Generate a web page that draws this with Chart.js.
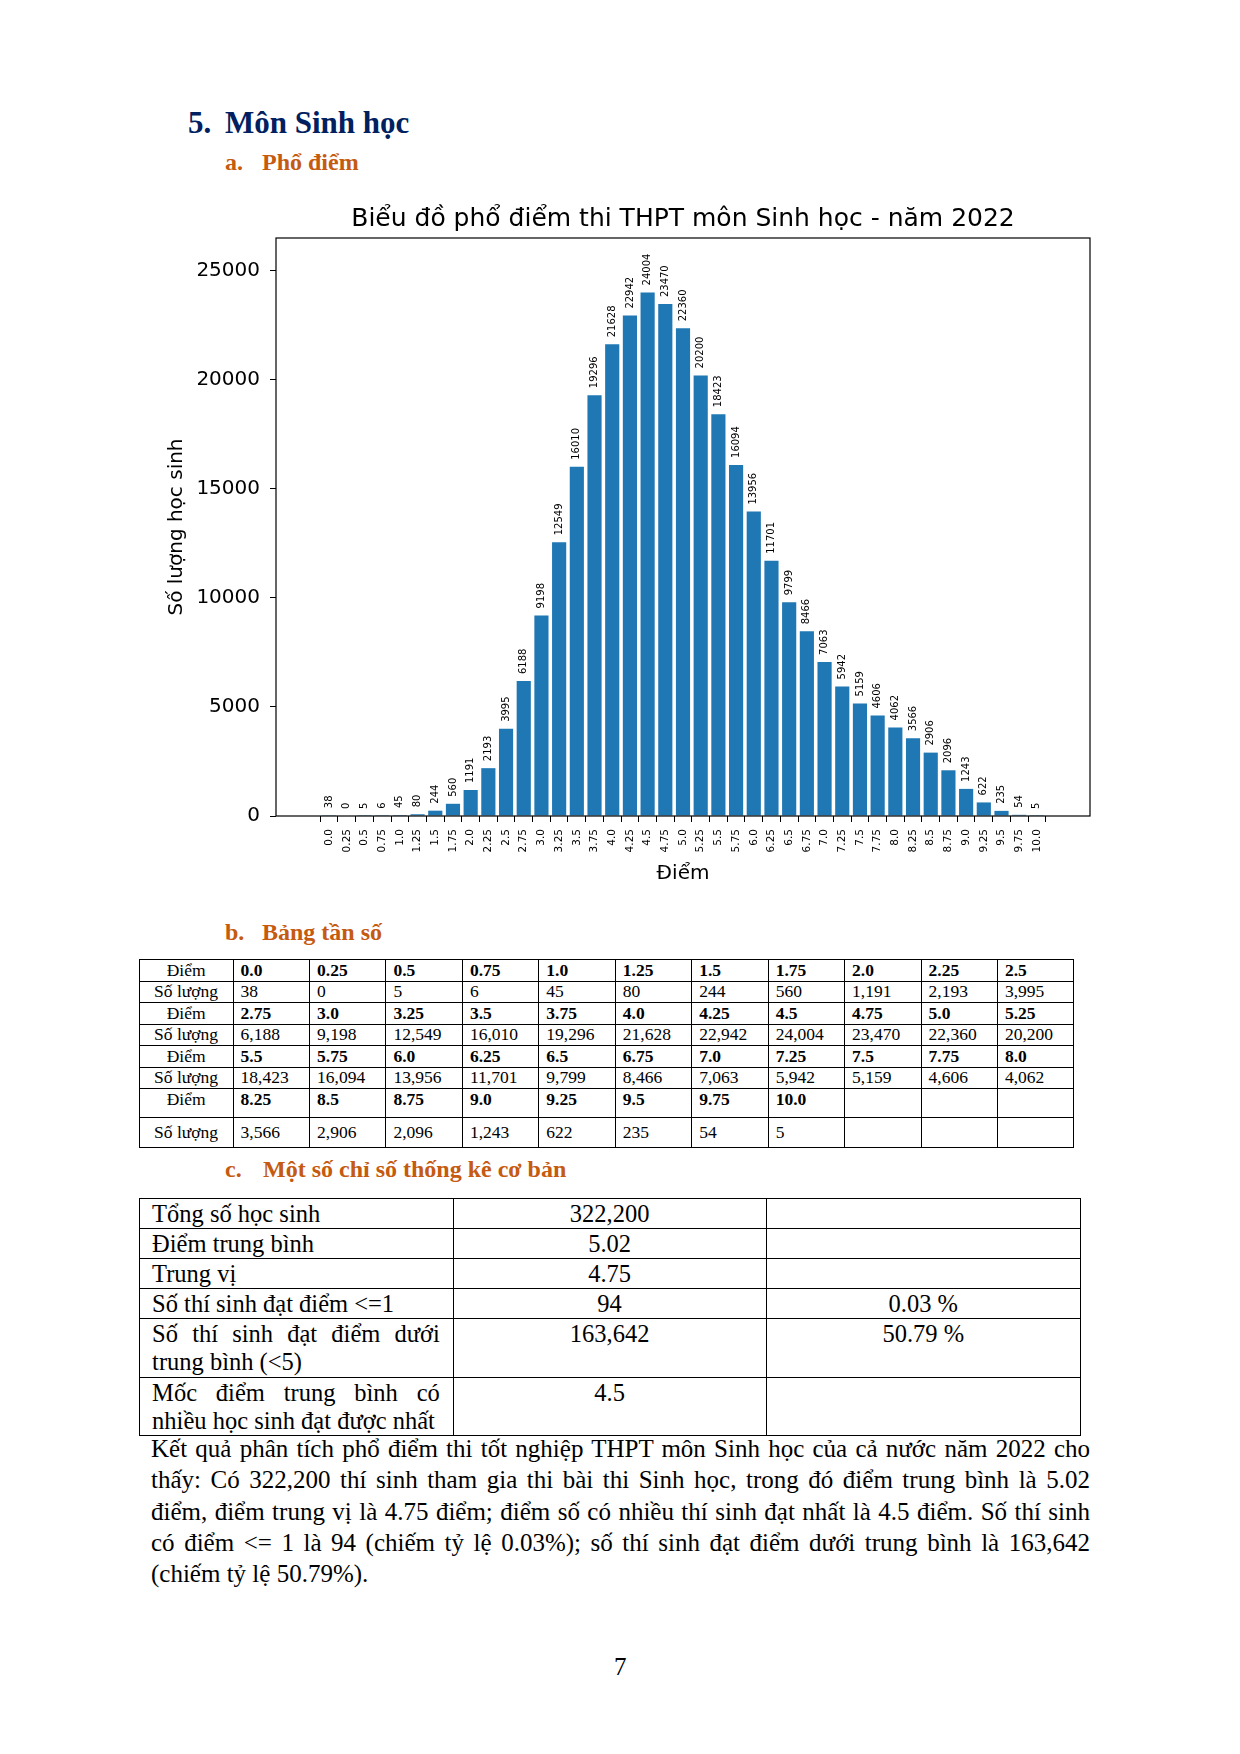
<!DOCTYPE html>
<html lang="vi">
<head>
<meta charset="utf-8">
<title>Môn Sinh học</title>
<script src="https://cdn.jsdelivr.net/npm/chart.js@4.4.1/dist/chart.umd.min.js"></script>
<style>
  html, body { margin: 0; padding: 0; background: #fff; }
  body {
    width: 1240px; height: 1754px; position: relative; overflow: hidden;
    font-family: "Liberation Serif", "Times New Roman", serif; color: #000;
  }
  .abs { position: absolute; white-space: nowrap; }
  .h1 { font-size: 31px; font-weight: bold; color: #002060; line-height: 31px; }
  .h2 { font-size: 24px; font-weight: bold; color: #c55a11; line-height: 24px; }
  #chartBox { position: absolute; left: 140px; top: 190px; width: 960px; height: 700px; }
  table { position: absolute; border-collapse: collapse; table-layout: fixed; }
  #freq { left: 138.6px; top: 959px; width: 935px; font-size: 17.5px; }
  #freq td { border: 1.5px solid #000; padding: 0 0 0 7px; line-height: 19px; vertical-align: middle; white-space: nowrap; }
  #freq td.lab { text-align: center; padding: 0; }
  #freq td.b { font-weight: bold; }
  #stats { left: 138.6px; top: 1197.5px; width: 941.5px; font-size: 24.5px; }
  #stats td { border: 1.5px solid #000; padding: 1px 13px 0 12.5px; line-height: 28px; vertical-align: top; }
  #stats td.c { text-align: center; }
  .just { text-align: justify; text-align-last: justify; }
  #para { position: absolute; left: 151px; top: 1433px; width: 939px; font-size: 25px; line-height: 31.3px; }
</style>
</head>
<body>

<div class="abs h1" style="left:188px; top:106.7px;">5.</div>
<div class="abs h1" style="left:225px; top:106.7px;">Môn Sinh học</div>
<div class="abs h2" style="left:225px; top:150px;">a.</div>
<div class="abs h2" style="left:262px; top:150px;">Phổ điểm</div>

<div id="chartBox"><canvas id="myChart" width="960" height="700"></canvas></div>

<div class="abs h2" style="left:225px; top:920px;">b.</div>
<div class="abs h2" style="left:262px; top:920px;">Bảng tần số</div>
<table id="freq"></table>

<div class="abs h2" style="left:225px; top:1157px;">c.</div>
<div class="abs h2" style="left:263px; top:1157px;">Một số chỉ số thống kê cơ bản</div>
<table id="stats"></table>

<div id="para"></div>

<div class="abs" style="left:614px; top:1653px; font-size:25px;">7</div>

<script>
const scoreLabels = ["0.0", "0.25", "0.5", "0.75", "1.0", "1.25", "1.5", "1.75", "2.0", "2.25",
  "2.5", "2.75", "3.0", "3.25", "3.5", "3.75", "4.0", "4.25", "4.5", "4.75", "5.0", "5.25",
  "5.5", "5.75", "6.0", "6.25", "6.5", "6.75", "7.0", "7.25", "7.5", "7.75", "8.0", "8.25",
  "8.5", "8.75", "9.0", "9.25", "9.5", "9.75", "10.0"];
const counts = [38, 0, 5, 6, 45, 80, 244, 560, 1191, 2193, 3995, 6188, 9198, 12549, 16010,
  19296, 21628, 22942, 24004, 23470, 22360, 20200, 18423, 16094, 13956, 11701, 9799, 8466,
  7063, 5942, 5159, 4606, 4062, 3566, 2906, 2096, 1243, 622, 235, 54, 5];
const yTicks = [0, 5000, 10000, 15000, 20000, 25000];

const statLabels = [
  ["Tổng số học sinh"],
  ["Điểm trung bình"],
  ["Trung vị"],
  ["Số thí sinh đạt điểm <=1"],
  ["Số thí sinh đạt điểm dưới", "trung bình (<5)"],
  ["Mốc điểm trung bình có", "nhiều học sinh đạt được nhất"],
];
const statValues = ["322,200", "5.02", "4.75", "94", "163,642", "4.5"];
const statPercents = ["", "", "", "0.03 %", "50.79 %", ""];

const paraLines = [
  "Kết quả phân tích phổ điểm thi tốt nghiệp THPT môn Sinh học của cả nước năm 2022 cho",
  "thấy: Có 322,200 thí sinh tham gia thi bài thi Sinh học, trong đó điểm trung bình là 5.02",
  "điểm, điểm trung vị là 4.75 điểm; điểm số có nhiều thí sinh đạt nhất là 4.5 điểm. Số thí sinh",
  "có điểm <= 1 là 94 (chiếm tỷ lệ 0.03%); số thí sinh đạt điểm dưới trung bình là 163,642",
  "(chiếm tỷ lệ 50.79%).",
];

// bảng tần số
const freq = document.getElementById("freq");
const perRow = 11;
let colgroup = "<colgroup><col style='width:94px'>";
for (let i = 0; i < perRow; i++) colgroup += "<col style='width:76.45px'>";
colgroup += "</colgroup>";
let rowsHtml = "";
const rowHeights = [21.5, 21.5, 21.5, 21.5, 21.5, 21.5, 29, 30];
for (let r = 0; r * perRow < scoreLabels.length; r++) {
  const top = r === 3 ? " style='vertical-align:top;padding-top:1px'" : "";
  let s = `<tr style="height:${rowHeights[r * 2]}px"><td class="lab"${top}>Điểm</td>`;
  let c = `<tr style="height:${rowHeights[r * 2 + 1]}px"><td class="lab">Số lượng</td>`;
  for (let k = 0; k < perRow; k++) {
    const i = r * perRow + k;
    s += i < scoreLabels.length ? `<td class="b"${top}>${scoreLabels[i]}</td>` : `<td${top}></td>`;
    c += i < counts.length ? `<td>${counts[i].toLocaleString("en-US")}</td>` : "<td></td>";
  }
  rowsHtml += s + "</tr>" + c + "</tr>";
}
freq.innerHTML = colgroup + rowsHtml;

// bảng thống kê
const stats = document.getElementById("stats");
let sh = "<colgroup><col style='width:314.2px'><col style='width:313.1px'><col style='width:314.2px'></colgroup>";
const statHeights = [30.2, 29.1, 29, 29.1, 59.2, 58.2];
statLabels.forEach((lines, i) => {
  const lab = lines.map((t, j) => `<div${j < lines.length - 1 ? " class='just'" : ""}>${t.replace(/</g, "&lt;")}</div>`).join("");
  sh += `<tr style="height:${statHeights[i]}px"><td>${lab}</td><td class="c">${statValues[i]}</td><td class="c">${statPercents[i]}</td></tr>`;
});
stats.innerHTML = sh;

// đoạn văn
document.getElementById("para").innerHTML = paraLines
  .map((t, i) => `<div${i < paraLines.length - 1 ? " class='just'" : ""}>${t.replace(/</g, "&lt;")}</div>`)
  .join("");

const fam = "'DejaVu Sans', sans-serif";

const barLabels = {
  id: "barLabels",
  afterDatasetsDraw(chart) {
    const ctx = chart.ctx;
    const meta = chart.getDatasetMeta(0);
    ctx.save();
    ctx.font = "10px " + fam;
    ctx.fillStyle = "#000";
    ctx.textAlign = "left";
    ctx.textBaseline = "middle";
    meta.data.forEach((bar, i) => {
      ctx.save();
      ctx.translate(bar.x, bar.y - 7);
      ctx.rotate(-Math.PI / 2);
      ctx.fillText(String(counts[i]), 0, 0);
      ctx.restore();
    });
    ctx.restore();
  },
};

const frame = {
  id: "frame",
  afterDraw(chart) {
    const { ctx, chartArea: a } = chart;
    ctx.save();
    ctx.strokeStyle = "#000";
    ctx.lineWidth = 1.2;
    ctx.strokeRect(a.left, a.top, a.right - a.left, a.bottom - a.top);
    ctx.restore();
  },
};

new Chart(document.getElementById("myChart"), {
  type: "bar",
  data: {
    datasets: [
      {
        data: counts.map((v, i) => ({ x: i, y: v })),
        backgroundColor: "#1f77b4",
        barPercentage: 0.8,
        categoryPercentage: 1.0,
      },
    ],
  },
  options: {
    responsive: false,
    animation: false,
    devicePixelRatio: 1,
    layout: { padding: { left: 0, right: 10, top: 0, bottom: 0 } },
    plugins: {
      legend: { display: false },
      tooltip: { enabled: false },
      title: {
        display: true,
        fullSize: false,
        text: "Biểu đồ phổ điểm thi THPT môn Sinh học - năm 2022",
        color: "#000",
        font: { family: fam, size: 25, weight: "normal" },
        padding: { top: 14, bottom: 4 },
      },
    },
    scales: {
      x: {
        type: "linear",
        min: -2.44,
        max: 42.44,
        afterBuildTicks: (axis) => {
          axis.ticks = scoreLabels.map((_, i) => ({ value: i }));
        },
        afterFit: (axis) => {
          axis.height = 74;
        },
        ticks: {
          autoSkip: false,
          minRotation: 90,
          maxRotation: 90,
          padding: 7,
          color: "#000",
          font: { family: fam, size: 10.5 },
          callback: (v) => scoreLabels[v],
        },
        grid: { drawOnChartArea: false, drawTicks: true, tickLength: 6, color: "#000" },
        border: { display: false },
        title: {
          display: true,
          text: "Điểm",
          color: "#000",
          font: { family: fam, size: 20 },
          padding: { top: 0, bottom: 4.6 },
        },
      },
      y: {
        min: 0,
        max: 26500,
        afterBuildTicks: (axis) => {
          axis.ticks = yTicks.map((v) => ({ value: v }));
        },
        afterFit: (axis) => {
          axis.width = 136;
        },
        ticks: {
          padding: 10,
          color: "#000",
          font: { family: fam, size: 20 },
          callback: (v) => String(v),
        },
        grid: { drawOnChartArea: false, drawTicks: true, tickLength: 6, color: "#000" },
        border: { display: false },
        title: {
          display: true,
          text: "Số lượng học sinh",
          color: "#000",
          font: { family: fam, size: 20 },
          padding: { top: 25, bottom: 0 },
        },
      },
    },
  },
  plugins: [barLabels, frame],
});
</script>
</body>
</html>
